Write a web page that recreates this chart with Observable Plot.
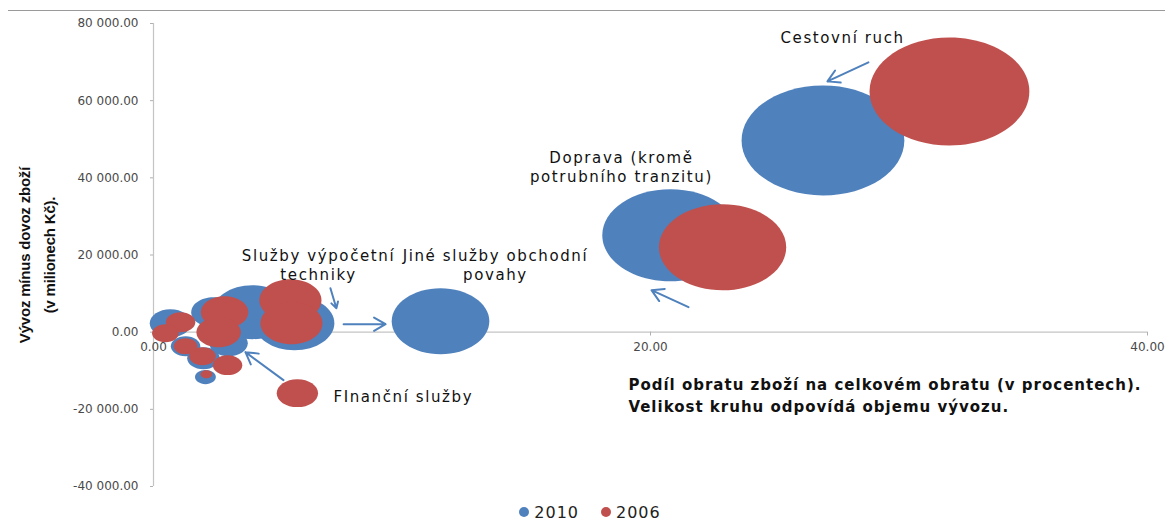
<!DOCTYPE html>
<html>
<head>
<meta charset="utf-8">
<script src="https://cdn.jsdelivr.net/npm/d3@7"></script>
<script src="https://cdn.jsdelivr.net/npm/@observablehq/plot@0.6"></script>
<style>
  html, body { margin: 0; padding: 0; background: #fff; }
  #wrap { position: relative; width: 1165px; height: 524px; overflow: hidden; }
  #topline { position: absolute; left: 8px; right: 0; top: 10px; height: 0; border-top: 1.5px solid #9a9a9a; }
  #legend { position: absolute; left: 0; top: 500px; width: 1180px; height: 24px; display: flex; justify-content: center; align-items: center; gap: 22px; font-family: "DejaVu Sans", sans-serif; font-size: 16px; letter-spacing: 1px; color: #222; }
  #legend .item { display: flex; align-items: center; gap: 5px; }
  #legend .sw { width: 10px; height: 10px; border-radius: 50%; display: inline-block; }
  g[aria-description="annot"] text { letter-spacing: 1.6px; }
  g[aria-description="caption"] text { letter-spacing: 1px; }
  g[aria-description="ylabel"] text { letter-spacing: -0.2px; }
</style>
</head>
<body>
<div id="wrap">
  <div id="chart"></div>
  <div id="topline"></div>
  <div id="legend"></div>
</div>
<script>
// ---- data ----
const years = ["2010", "2006"];
const seriesColors = ["#4F81BD", "#C0504D"];

// 2010 series (blue)
const names2010 = ["Cestovní ruch", "Doprava (kromě potrubního tranzitu)", "Jiné služby obchodní povahy",
  "Služby výpočetní techniky", "Komunikační služby", "Stavební služby", "Licenční poplatky",
  "Pojišťovací služby", "Kulturní a rekreační služby", "Vládní služby", "Finanční služby"];
const share2010 = [26.94, 20.80, 11.55, 5.67, 3.98, 2.41, 0.68, 1.29, 2.01, 2.09, 3.02];
const balance2010 = [49700, 25100, 2850, 2330, 5180, 5180, 2330, -3630, -6730, -11650, -2850];
const export2010 = [103700, 72600, 37300, 25000, 25000, 7700, 6700, 3400, 4150, 1700, 5800];

// 2006 series (red)
const names2006 = ["Cestovní ruch", "Doprava (kromě potrubního tranzitu)", "Jiné služby obchodní povahy",
  "Služby výpočetní techniky", "Komunikační služby", "Stavební služby", "Licenční poplatky",
  "Pojišťovací služby", "Kulturní a rekreační služby", "Vládní služby", "Opravy", "Potrubní tranzit", "Finanční služby"];
const share2006 = [32.03, 22.90, 5.51, 5.55, 2.86, 2.62, 1.09, 0.48, 1.29, 1.97, 2.98, 2.13, 5.79];
const balance2006 = [62400, 22000, 8290, 2330, 5180, 0, 2590, -260, -3630, -6220, -8550, -10880, -15800];
const export2006 = [100000, 63400, 15100, 15100, 8800, 7700, 3400, 2800, 2200, 2800, 3400, 550, 6700];

const xTicks = [0, 20, 40];
const yTicks = [-40000, -20000, 0, 20000, 40000, 60000, 80000];

// centred annotations
const annText = ["Cestovní ruch", "Doprava (kromě\npotrubního tranzitu)", "Služby výpočetní\ntechniky",
  "Jiné služby obchodní\npovahy"];
const annX = [27.73, 18.83, 6.64, 13.76];
const annY = [76400, 43000, 17600, 17600];

// left-aligned annotation
const finText = "FInanční služby";
const finX = 7.24, finY = -16800;

const captionText = "Podíl obratu zboží na celkovém obratu (v procentech).\nVelikost kruhu odpovídá objemu vývozu.";
const captionX = 19.11, captionY = -16060;

const yLabel = "Vývoz mínus dovoz zboží\n(v milionech Kč).";

// arrows
const arrX1 = [28.77, 21.53, 7.12, 7.65, 5.23];
const arrY1 = [69930, 6475, 11400, 2070, -12430];
const arrX2 = [27.12, 20.04, 7.36, 9.34, 3.70];
const arrY2 = [65000, 10880, 6220, 2070, -5180];

// ---- build tables ----
const s2010 = names2010.map((n, i) => ({name: n, x: share2010[i], y: balance2010[i], v: export2010[i]}))
  .sort((a, b) => b.v - a.v);
const s2006 = names2006.map((n, i) => ({name: n, x: share2006[i], y: balance2006[i], v: export2006[i]}))
  .sort((a, b) => b.v - a.v);
const ann = annText.map((t, i) => ({t, x: annX[i], y: annY[i]}));
const arrows = arrX1.map((d, i) => ({x1: arrX1[i], y1: arrY1[i], x2: arrX2[i], y2: arrY2[i]}));

const fmt = d => d3.format(",.2f")(d).replace(/,/g, "\u00a0").replace("\u2212", "-");

// ellipse symbol (bubbles are horizontally stretched in the original)
const ellipse = {
  draw(ctx, size) {
    const r = Math.sqrt(size / Math.PI), rx = r * 1.48, ry = r, k = 0.5522847498;
    ctx.moveTo(rx, 0);
    ctx.bezierCurveTo(rx, ry * k, rx * k, ry, 0, ry);
    ctx.bezierCurveTo(-rx * k, ry, -rx, ry * k, -rx, 0);
    ctx.bezierCurveTo(-rx, -ry * k, -rx * k, -ry, 0, -ry);
    ctx.bezierCurveTo(rx * k, -ry, rx, -ry * k, rx, 0);
    ctx.closePath();
  }
};

const chart = Plot.plot({
  width: 1165,
  height: 500,
  marginLeft: 153,
  marginRight: 18,
  marginTop: 23,
  marginBottom: 14,
  x: {domain: [0, 40], axis: null},
  y: {domain: [-40000, 80000], axis: null},
  r: {type: "sqrt", domain: [0, 100000], range: [0, 54]},
  style: {fontFamily: "DejaVu Sans, sans-serif", background: "white", overflow: "visible"},
  marks: [
    Plot.ruleX([0], {stroke: "#c4c4c4", strokeWidth: 1.2}),
    Plot.ruleY([0], {stroke: "#c4c4c4", strokeWidth: 1.2}),
    Plot.axisY({ticks: yTicks, tickFormat: fmt, tickSize: 3, tickPadding: 12, stroke: "#b0b0b0", fill: "#4a4a4a", fontSize: 12, label: null}),
    Plot.ruleX(xTicks.filter(d => d > 0), {x: d => d, y1: 0, y2: -1000, stroke: "#b0b0b0"}),
    Plot.text(xTicks, {x: d => d, y: 0, dy: 15, text: fmt, fill: "#4a4a4a", fontSize: 12}),
    Plot.text([yLabel], {frameAnchor: "left", textAnchor: "middle", rotate: -90, dx: -119, text: d => d, fontFamily: "'Liberation Sans', Arial, sans-serif", fontWeight: "bold", fontSize: 15, lineHeight: 1.65, lineAnchor: "middle", fill: "#111", ariaDescription: "ylabel"}),
    Plot.dot(s2010, {x: "x", y: "y", r: "v", fill: seriesColors[0], symbol: ellipse, stroke: null}),
    Plot.dot(s2006, {x: "x", y: "y", r: "v", fill: seriesColors[1], symbol: ellipse, stroke: null}),
    Plot.arrow(arrows, {x1: "x1", y1: "y1", x2: "x2", y2: "y2", stroke: seriesColors[0], strokeWidth: 2, headLength: 10}),
    Plot.text(ann, {x: "x", y: "y", text: "t", textAnchor: "middle", lineAnchor: "middle", fontSize: 15, lineHeight: 1.25, fill: "#111", ariaDescription: "annot"}),
    Plot.text([finText], {x: finX, y: finY, text: d => d, textAnchor: "start", lineAnchor: "middle", fontSize: 15, fill: "#111", ariaDescription: "annot"}),
    Plot.text([captionText], {x: captionX, y: captionY, text: d => d, textAnchor: "start", lineAnchor: "middle", fontSize: 15, fontWeight: "bold", lineHeight: 1.45, fill: "#111", ariaDescription: "caption"})
  ]
});
document.getElementById("chart").append(chart);

const legend = document.getElementById("legend");
years.forEach((yr, i) => {
  const item = document.createElement("span");
  item.className = "item";
  const sw = document.createElement("span");
  sw.className = "sw";
  sw.style.background = seriesColors[i];
  item.append(sw, document.createTextNode(yr));
  legend.append(item);
});
</script>
</body>
</html>
